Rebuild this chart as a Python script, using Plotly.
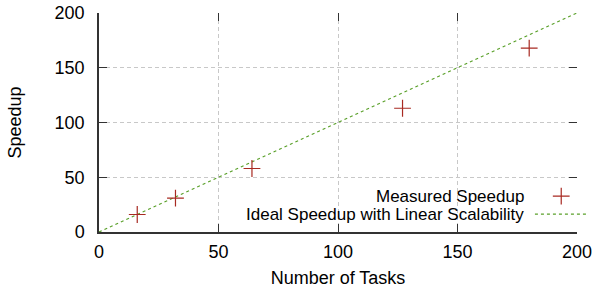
import plotly.graph_objects as go

tasks = [16, 32, 64, 127, 180]
speedup = [16, 31, 58, 113, 168]
ideal_x = [0, 200]
ideal_y = [0, 200]
tick_vals = [0, 50, 100, 150, 200]

FONT = dict(family="Liberation Sans, Arial, Helvetica, sans-serif", size=18, color="#000000")
LFONT = dict(family="Liberation Sans, Arial, Helvetica, sans-serif", size=17, color="#000000")
RED = "#a82a22"
GREEN = "#5aa02a"

fig = go.Figure()
fig.add_trace(go.Scatter(x=ideal_x, y=ideal_y, mode="lines",
                         line=dict(color=GREEN, width=1.2, dash="3px,3px"),
                         showlegend=False, hoverinfo="skip"))
fig.add_trace(go.Scatter(x=tasks, y=speedup, mode="markers",
                         marker=dict(symbol="cross-thin", size=12,
                                     line=dict(color=RED, width=1.2)),
                         showlegend=False, cliponaxis=False))

# mirror tick axes (ticks only, no line) on top/right
fig.add_trace(go.Scatter(x=[None], y=[None], xaxis="x2", yaxis="y2",
                         showlegend=False, hoverinfo="skip"))

# legend samples
fig.add_shape(type="line", xref="paper", yref="paper",
              x0=0.912, x1=1.023, y0=0.082, y1=0.082,
              line=dict(color=GREEN, width=1.2, dash="3px,3px"))
fig.add_trace(go.Scatter(x=[0.967], y=[0.164], xaxis="x3", yaxis="y3", mode="markers",
                         marker=dict(symbol="cross-thin", size=12,
                                     line=dict(color=RED, width=1.2)),
                         showlegend=False, cliponaxis=False, hoverinfo="skip"))
fig.add_annotation(text="Measured Speedup", xref="paper", yref="paper",
                   x=0.893, y=0.164, xanchor="right", yanchor="middle",
                   showarrow=False, font=LFONT)
fig.add_annotation(text="Ideal Speedup with Linear Scalability", xref="paper", yref="paper",
                   x=0.893, y=0.082, xanchor="right", yanchor="middle",
                   showarrow=False, font=LFONT)

grid = dict(showgrid=True, gridcolor="#c8c8c8", griddash="4px,3px", gridwidth=1)
fig.update_layout(
    template="none",
    width=607, height=293,
    margin=dict(l=99, r=30, t=13, b=61),
    paper_bgcolor="white", plot_bgcolor="white",
    font=FONT,
    xaxis=dict(range=[0, 200], tickvals=tick_vals, ticks="inside", ticklen=8,
               tickcolor="#333333", showline=True, linecolor="#333333", linewidth=1.5,
               zeroline=False, automargin=False, ticklabelstandoff=3,
               title=dict(text="Number of Tasks", font=FONT, standoff=10),
               **grid),
    yaxis=dict(range=[0, 200], tickvals=tick_vals, ticks="inside", ticklen=8,
               tickcolor="#333333", showline=True, linecolor="#333333", linewidth=1.5,
               zeroline=False, automargin=False, ticklabelstandoff=9,
               title=dict(text="Speedup", font=FONT, standoff=28),
               **grid),
    xaxis2=dict(range=[0, 200], tickvals=tick_vals, ticks="inside", ticklen=8,
                tickcolor="#333333", side="top", overlaying="x", showticklabels=False,
                showgrid=False, zeroline=False, showline=False, automargin=False),
    yaxis2=dict(range=[0, 200], tickvals=tick_vals, ticks="inside", ticklen=8,
                tickcolor="#333333", side="right", overlaying="y", showticklabels=False,
                showgrid=False, zeroline=False, showline=False, automargin=False),
    xaxis3=dict(range=[0, 1], overlaying="x", visible=False, automargin=False),
    yaxis3=dict(range=[0, 1], overlaying="y", visible=False, automargin=False),
)

fig.write_html("out.html", config={"displayModeBar": False},
               post_script="document.body.style.margin='0';document.body.style.padding='0';")
